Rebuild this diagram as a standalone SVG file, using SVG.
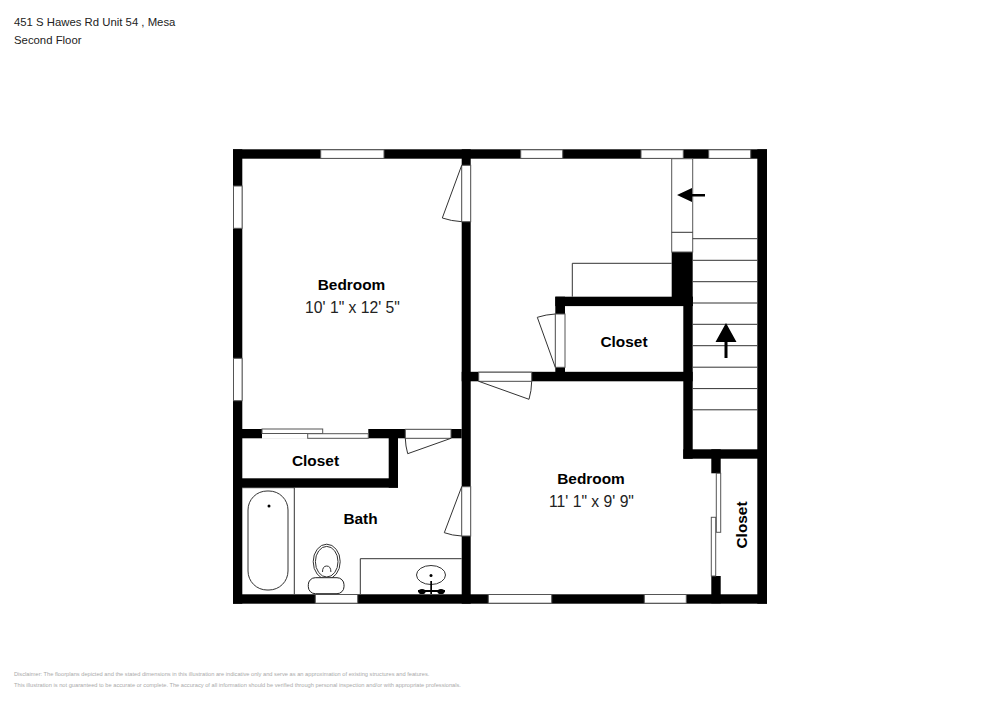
<svg xmlns="http://www.w3.org/2000/svg" width="1000" height="707" viewBox="0 0 1000 707">
<style>
text{font-family:"Liberation Sans",Arial,sans-serif;fill:#000}
.h{font-size:11.35px;fill:#222}
.n{font-size:15.4px;font-weight:bold;text-anchor:middle}
.d{font-size:15.7px;text-anchor:middle;fill:#222}
.f{font-size:5.7px;fill:#aaa}
.w{fill:#000}
.o{fill:#fff;stroke:#555;stroke-width:1}
.l{fill:none;stroke:#333;stroke-width:1}
.t{fill:#fff;stroke:#222;stroke-width:1}
</style>
<rect width="1000" height="707" fill="#fff"/>
<text class="h" x="14" y="26">451 S Hawes Rd Unit 54 , Mesa</text>
<text class="h" x="14" y="44">Second Floor</text>
<g id="walls">
<rect class="w" x="233" y="149.3" width="534" height="9.4"/>
<rect class="w" x="233" y="594.3" width="534" height="9.4"/>
<rect class="w" x="233" y="149.3" width="9.3" height="454.4"/>
<rect class="w" x="757.3" y="149.3" width="9.7" height="454.4"/>
<rect class="w" x="461.7" y="149.3" width="9" height="454.4"/>
<rect class="w" x="461.7" y="371.8" width="231" height="9.5"/>
<rect class="w" x="555.3" y="296.7" width="137.4" height="9.4"/>
<rect class="w" x="555.3" y="296.7" width="9.7" height="84"/>
<rect class="w" x="671.7" y="252" width="21" height="54"/>
<rect class="w" x="683.3" y="296.7" width="9.4" height="162"/>
<rect class="w" x="683.3" y="449.3" width="83.7" height="9.4"/>
<rect class="w" x="711.3" y="449.3" width="9.4" height="154"/>
<rect class="w" x="233" y="429" width="228.7" height="9.3"/>
<rect class="w" x="233" y="478.3" width="165" height="9.4"/>
<rect class="w" x="388.7" y="429" width="9.3" height="58.7"/>
</g>
<g id="windows">
<rect class="o" x="320.7" y="149.8" width="63.3" height="8.6"/>
<rect class="o" x="520.7" y="149.8" width="42" height="8.6"/>
<rect class="o" x="641" y="149.8" width="42.3" height="8.6"/>
<rect class="o" x="708.7" y="149.8" width="42" height="8.6"/>
<rect class="o" x="233.5" y="186" width="8.6" height="42.3"/>
<rect class="o" x="233.5" y="358.3" width="8.6" height="42.4"/>
<rect class="o" x="315.3" y="594.5" width="42.4" height="8.7"/>
<rect class="o" x="488.3" y="594.5" width="63.4" height="8.7"/>
<rect class="o" x="644.3" y="594.5" width="42" height="8.7"/>
</g>
<g id="doors">
<rect class="o" x="461.7" y="165.3" width="9" height="56.4"/>
<path class="l" d="M461.7 165.3L442.3 218Q451 221 461.7 221.7"/>
<rect class="o" x="461.7" y="486.7" width="9" height="49.3"/>
<path class="l" d="M461.7 486.7L444.3 532.7Q452 535.5 461.7 536"/>
<rect class="o" x="555.3" y="314" width="9.7" height="53.3"/>
<path class="l" d="M555.3 367.3L537.3 317.3Q546 314.5 555.3 314"/>
<rect class="o" x="478.7" y="372.2" width="53" height="9.1"/>
<path class="l" d="M478.7 381.3L529 399.3Q531.5 391 531.7 381.3"/>
<rect class="o" x="405.3" y="429.3" width="45.7" height="9"/>
<path class="l" d="M451 438.3L407.7 453.7Q405.5 446 405.3 438.3"/>
<rect x="262" y="428.5" width="106.3" height="10.3" fill="#fff"/>
<rect class="o" x="262" y="429" width="60.7" height="4.5"/>
<rect class="o" x="307.7" y="433.7" width="60.6" height="4.6"/>
<rect x="710.8" y="473.3" width="10.4" height="102.7" fill="#fff"/>
<rect class="o" x="716.3" y="473.3" width="4.4" height="59"/>
<rect class="o" x="711.3" y="517.3" width="4.4" height="58.7"/>
</g>
<g id="stairs">
<rect class="o" x="671.7" y="158.7" width="21" height="93.3"/>
<path class="l" d="M671.7 232.3H692.7"/>
<path class="l" d="M692.7 238.7H757.3M692.7 260.3H757.3M692.7 281.7H757.3M692.7 303H757.3M692.7 324.3H757.3M692.7 345.7H757.3M692.7 367.2H757.3M692.7 388.6H757.3M692.7 409.8H757.3"/>
<path d="M677 195L692 188V194H705V196.4H692V202Z"/>
<path d="M726 323L736.5 342H727.5V358H724.5V342H715.5Z"/>
</g>
<g id="fixtures">
<path class="l" d="M572.3 296.7V263.3H671.7"/>
<path class="l" d="M242.3 487.7H294.3V594.3"/>
<rect class="l" x="248" y="491" width="40" height="99" rx="19"/>
<circle cx="269" cy="506" r="1.5"/>
<path class="l" d="M360.3 594.3V558.7H461.7"/>
<ellipse class="l" cx="326.7" cy="561.7" rx="13.5" ry="17.5"/>
<ellipse class="l" cx="326.7" cy="561.7" rx="11.3" ry="15.3"/>
<path class="l" d="M322.5 572Q322.5 566 326.7 566Q330.9 566 330.9 572"/>
<rect class="t" x="308.3" y="577.7" width="35.7" height="16" rx="7"/>
<ellipse class="l" cx="431" cy="575" rx="14.5" ry="9.5"/>
<circle cx="431" cy="575.5" r="1.5"/>
<path d="M430.3 581H432V590H445V592H432V594H430.3V592H418V590H430.3Z"/>
<ellipse cx="422" cy="591.5" rx="3.6" ry="2.6"/>
<ellipse cx="441" cy="591.5" rx="3.6" ry="2.6"/>
</g>
<g id="labels">
<text class="n" x="351.5" y="290">Bedroom</text>
<text class="d" x="352.5" y="312.5">10' 1" x 12' 5"</text>
<text class="n" x="591" y="484">Bedroom</text>
<text class="d" x="591.5" y="506.5">11' 1" x 9' 9"</text>
<text class="n" x="624" y="346.5">Closet</text>
<text class="n" x="315.5" y="466">Closet</text>
<text class="n" x="360.5" y="523.5">Bath</text>
<text class="n" transform="translate(747 525) rotate(-90)">Closet</text>
</g>
<text class="f" x="14" y="676">Disclaimer: The floorplans depicted and the stated dimensions in this illustration are indicative only and serve as an approximation of existing structures and features.</text>
<text class="f" x="14" y="687">This illustration is not guaranteed to be accurate or complete. The accuracy of all information should be verified through personal inspection and/or with appropriate professionals.</text>
</svg>
